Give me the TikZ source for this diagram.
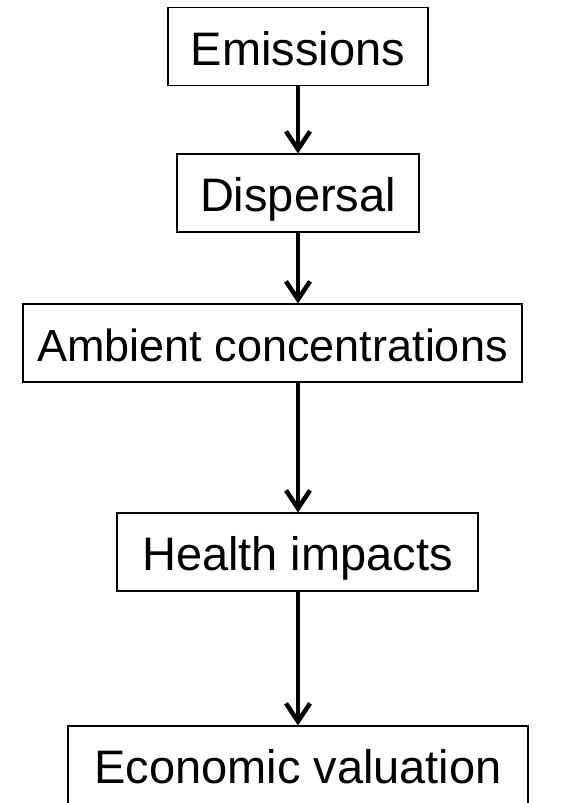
\documentclass[tikz,border=0pt]{standalone}
\usepackage{fontspec}
\setmainfont{Liberation Sans}
\usetikzlibrary{
  arrows.meta,
  positioning
}
\tikzset{
  stepbox/.style={
    draw,
    line width=1.2pt,
    inner sep=0pt,
    minimum height=78pt,
    text height=37pt,
    text depth=0pt,
    font=\fontsize{47}{50}\selectfont
  }
}

\begin{document}
\begin{tikzpicture}[
      x=1pt, y=-1pt,
      >={Straight Barb[length=18pt,width=24pt]},
      flow/.style={->, line width=4.5pt}
      ]
      \useasboundingbox (0,0) rectangle (572,803);

      \foreach \n/\x/\y/\w/\s/\t in {emis/298/46.5/260/47/Emissions,
          disp/298/193/242/47/Dispersal,
          amb/272.5/343/499/45/Ambient concentrations,
          hlth/297.5/552/361/47/Health impacts,
          econ/298/765/460/47/Economic valuation}{
        \node[stepbox, minimum width=\w pt, font=\fontsize{\s}{50}\selectfont] (\n) at (\x,\y) {\t};
      }

      \foreach \a/\b in {emis/disp, disp/amb, amb/hlth, hlth/econ}{
        \draw[flow] (\a.south -| emis.south) -- (\b.north -| emis.south);
      }
    \end{tikzpicture}
\end{document}
